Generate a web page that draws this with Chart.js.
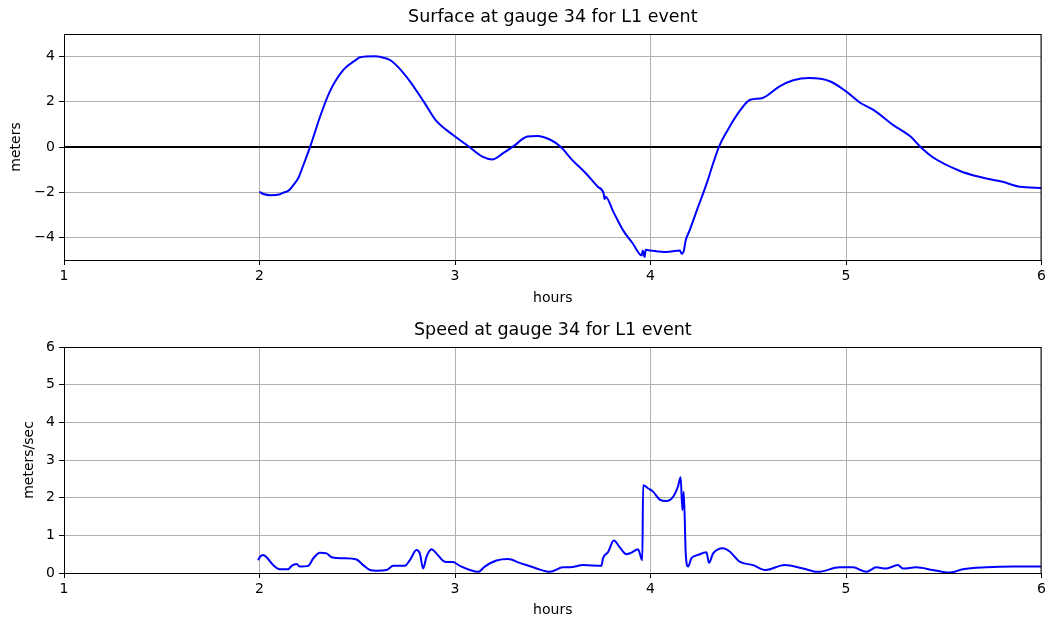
<!DOCTYPE html>
<html>
<head>
<meta charset="utf-8">
<script src="https://cdn.jsdelivr.net/npm/chart.js@4"></script>
<style>
  html, body { margin: 0; padding: 0; background: #fff; }
  #wrap { position: relative; width: 1049px; height: 622px; }
  canvas { position: absolute; left: 0; }
  #surface-chart { top: 0; }
  #speed-chart { top: 311px; }
</style>
</head>
<body>
<div id="wrap">
  <canvas id="surface-chart" width="1049" height="311"></canvas>
  <canvas id="speed-chart" width="1049" height="311"></canvas>
</div>
<script>
// surface elevation at gauge 34 (hours, meters)
const surfaceHours = [2.00, 2.02, 2.06, 2.10, 2.12, 2.15, 2.17, 2.20, 2.22, 2.26, 2.31, 2.36, 2.43, 2.50, 2.51, 2.59, 2.62, 2.67, 2.75, 2.84,
    2.90, 2.99, 3.06, 3.14, 3.19, 3.25, 3.30, 3.37, 3.42, 3.49, 3.54, 3.60, 3.67, 3.73, 3.76, 3.765, 3.77, 3.81, 3.86, 3.91,
    3.955, 3.96, 3.97, 3.975, 4.00, 4.08, 4.15, 4.16, 4.17, 4.18, 4.20, 4.24, 4.29, 4.32, 4.35, 4.39, 4.46, 4.51, 4.57, 4.66,
    4.73, 4.81, 4.92, 5.00, 5.07, 5.14, 5.24, 5.33, 5.38, 5.44, 5.58, 5.68, 5.80, 5.89, 6.00];
const surfaceMeters = [-1.98, -2.08, -2.13, -2.10, -2.03, -1.92, -1.72, -1.35, -0.90, 0.04, 1.35, 2.46, 3.42, 3.90, 3.96, 4.01, 3.98, 3.84, 3.13, 2.01,
    1.20, 0.53, 0.09, -0.43, -0.55, -0.25, 0.04, 0.46, 0.49, 0.31, 0.01, -0.58, -1.17, -1.76, -2.05, -2.30, -2.20, -2.87, -3.69, -4.28,
    -4.80, -4.58, -4.87, -4.55, -4.58, -4.65, -4.58, -4.72, -4.60, -4.13, -3.69, -2.73, -1.54, -0.73, 0.01, 0.68, 1.64, 2.09, 2.16, 2.68,
    2.95, 3.05, 2.90, 2.46, 1.97, 1.64, 0.98, 0.46, 0.01, -0.43, -1.05, -1.32, -1.54, -1.76, -1.81];

// speed at gauge 34 (hours, m/s)
const speedHours = [1.993, 2.002, 2.019, 2.036, 2.07, 2.104, 2.147, 2.164, 2.19, 2.207, 2.249, 2.275, 2.309, 2.343, 2.369, 2.428, 2.496, 2.53, 2.565, 2.599,
    2.65, 2.684, 2.743, 2.769, 2.803, 2.82, 2.837, 2.854, 2.88, 2.905, 2.948, 2.99, 3.025, 3.076, 3.118, 3.152, 3.212, 3.271, 3.331, 3.417,
    3.485, 3.553, 3.587, 3.655, 3.749, 3.757, 3.783, 3.812, 3.843, 3.877, 3.902, 3.936, 3.958, 3.962, 3.987, 4.013, 4.047, 4.081, 4.115, 4.14,
    4.154, 4.163, 4.17, 4.18, 4.192, 4.209, 4.243, 4.286, 4.299, 4.32, 4.371, 4.405, 4.456, 4.524, 4.589, 4.686, 4.78, 4.856, 4.967, 5.035,
    5.104, 5.155, 5.206, 5.265, 5.291, 5.359, 5.444, 5.529, 5.598, 5.717, 5.854, 5.998];
const speedValues = [0.34, 0.43, 0.48, 0.42, 0.21, 0.10, 0.10, 0.19, 0.24, 0.17, 0.19, 0.39, 0.54, 0.52, 0.42, 0.39, 0.36, 0.21, 0.08, 0.06,
    0.08, 0.19, 0.19, 0.34, 0.61, 0.52, 0.12, 0.43, 0.63, 0.52, 0.30, 0.29, 0.19, 0.08, 0.03, 0.17, 0.33, 0.37, 0.27, 0.12,
    0.03, 0.15, 0.15, 0.21, 0.19, 0.39, 0.56, 0.86, 0.68, 0.50, 0.54, 0.63, 0.34, 2.33, 2.25, 2.16, 1.95, 1.91, 2.02, 2.29,
    2.54, 1.67, 2.16, 0.52, 0.17, 0.39, 0.48, 0.55, 0.27, 0.52, 0.66, 0.57, 0.30, 0.21, 0.08, 0.21, 0.12, 0.03, 0.15, 0.15,
    0.03, 0.15, 0.12, 0.21, 0.12, 0.15, 0.08, 0.01, 0.10, 0.15, 0.17, 0.17];

const hourTicks = [1, 2, 3, 4, 5, 6];
const surfaceTicks = [-4, -2, 0, 2, 4];
const speedTicks = [0, 1, 2, 3, 4, 5, 6];

const FONT = "'DejaVu Sans', sans-serif";
const TITLE_SIZE = 17.5;
const TICK_SIZE = 14;

function toPoints(xs, ys) {
    return xs.map((x, i) => ({ x, y: ys[i] }));
}

function minusSign(v) {
    return String(v).replace("-", "\u2212");
}

// matplotlib draws all four spines, chart.js only left/bottom
const framePlugin = {
    id: "frame",
    afterDraw(chart) {
        const { ctx, chartArea: a } = chart;
        ctx.save();
        ctx.strokeStyle = "#000";
        ctx.lineWidth = 1;
        ctx.strokeRect(a.left + 0.5, a.top + 0.5, a.right - a.left - 1, a.bottom - a.top);
        ctx.restore();
    },
};

function makeChart(canvasId, opts) {
    const ctx = document.getElementById(canvasId).getContext("2d");
    return new Chart(ctx, {
        type: "scatter",
        data: { datasets: opts.datasets },
        options: {
            responsive: false,
            animation: false,
            layout: { padding: { left: 0, right: 7, top: 0, bottom: 0 } },
            plugins: {
                legend: { display: false },
                tooltip: { enabled: false },
                title: {
                    display: true,
                    fullSize: false,
                    text: opts.title,
                    color: "#000",
                    font: { family: FONT, size: TITLE_SIZE, weight: "normal" },
                    padding: { top: opts.titleTop, bottom: opts.topGap - opts.titleTop - TITLE_SIZE * 1.2 },
                },
            },
            scales: {
                x: {
                    type: "linear",
                    min: 1,
                    max: 6,
                    afterBuildTicks: (s) => { s.ticks = hourTicks.map((v) => ({ value: v })); },
                    afterFit: (s) => { s.height = opts.xHeight; },
                    grid: { color: "#b0b0b0", lineWidth: 1, tickColor: "#000", tickLength: 5 },
                    border: { color: "#000", width: 1 },
                    ticks: { color: "#000", padding: 3, font: { family: FONT, size: TICK_SIZE } },
                    title: {
                        display: true,
                        text: "hours",
                        color: "#000",
                        font: { family: FONT, size: TICK_SIZE },
                        padding: { top: 0, bottom: opts.xTitlePad },
                    },
                },
                y: {
                    type: "linear",
                    min: opts.yMin,
                    max: opts.yMax,
                    afterBuildTicks: (s) => { s.ticks = opts.yTicks.map((v) => ({ value: v })); },
                    afterFit: (s) => { s.width = 64; },
                    grid: { color: "#b0b0b0", lineWidth: 1, tickColor: "#000", tickLength: 5 },
                    border: { color: "#000", width: 1 },
                    ticks: {
                        color: "#000",
                        padding: 4,
                        font: { family: FONT, size: TICK_SIZE },
                        callback: (v) => minusSign(v),
                    },
                    title: {
                        display: true,
                        text: opts.yLabel,
                        color: "#000",
                        font: { family: FONT, size: TICK_SIZE },
                        padding: { top: opts.yTitlePad, bottom: 0 },
                    },
                },
            },
        },
        plugins: [framePlugin],
    });
}

// Mặt nước
makeChart("surface-chart", {
    title: "Surface at gauge 34 for L1 event",
    titleTop: 7,
    topGap: 34,
    xHeight: 51,
    xTitlePad: 4,
    yMin: -5,
    yMax: 5,
    yTicks: surfaceTicks,
    yLabel: "meters",
    yTitlePad: 8,
    datasets: [
        {
            data: toPoints(surfaceHours, surfaceMeters),
            showLine: true,
            borderColor: "#0000ff",
            borderWidth: 2,
            pointRadius: 0,
            cubicInterpolationMode: "monotone",
        },
        {
            data: toPoints([1, 6], [0, 0]),
            showLine: true,
            borderColor: "#000",
            borderWidth: 2,
            pointRadius: 0,
        },
    ],
});

// Vận tốc
makeChart("speed-chart", {
    title: "Speed at gauge 34 for L1 event",
    titleTop: 9,
    topGap: 36,
    xHeight: 49,
    xTitlePad: 3,
    yMin: 0,
    yMax: 6,
    yTicks: speedTicks,
    yLabel: "meters/sec",
    yTitlePad: 21,
    datasets: [
        {
            data: toPoints(speedHours, speedValues),
            showLine: true,
            borderColor: "#0000ff",
            borderWidth: 2,
            pointRadius: 0,
            cubicInterpolationMode: "monotone",
        },
    ],
});
</script>
</body>
</html>
